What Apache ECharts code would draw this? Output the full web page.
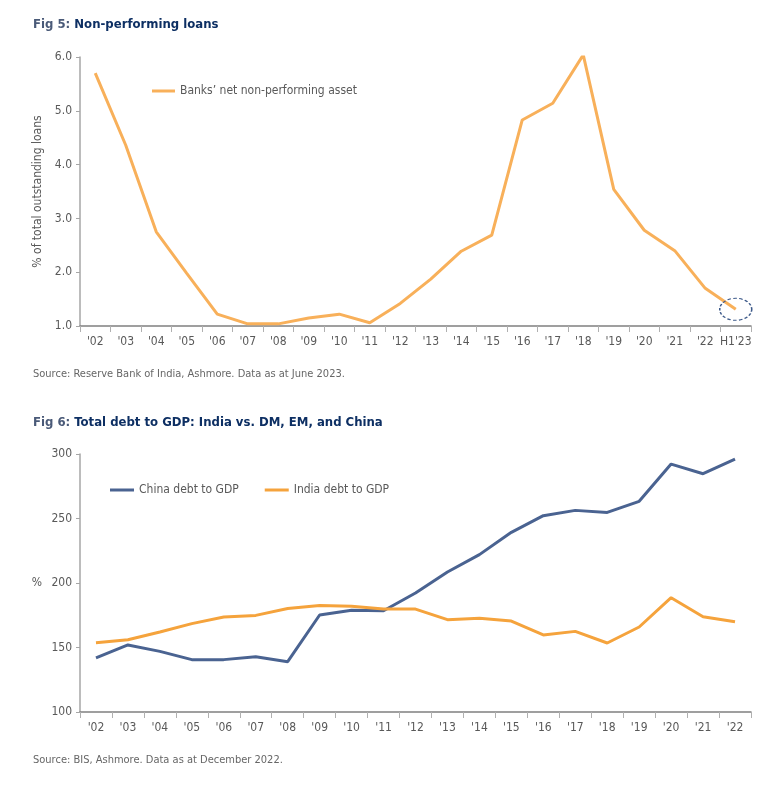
<!DOCTYPE html>
<html><head><meta charset="utf-8">
<script src="https://cdn.jsdelivr.net/npm/echarts@6/dist/echarts.min.js"></script>
<style>html,body{margin:0;padding:0;background:#fff}#c{width:782px;height:798px}</style>
</head><body><div id="c"></div>
<script>
const npaCategories = ["'02","'03","'04","'05","'06","'07","'08","'09","'10","'11","'12","'13","'14","'15","'16","'17","'18","'19","'20","'21","'22","H1'23"];
const npaValues = [5.70,4.36,2.75,1.98,1.22,1.04,1.04,1.15,1.22,1.06,1.42,1.87,2.39,2.69,4.83,5.14,6.04,3.54,2.78,2.40,1.70,1.31];
const npaTicks = [1,2,3,4,5,6];

const debtCategories = ["'02","'03","'04","'05","'06","'07","'08","'09","'10","'11","'12","'13","'14","'15","'16","'17","'18","'19","'20","'21","'22"];
const chinaDebt = [142,152,147,140.6,140.6,142.9,139,175.2,178.8,178.5,192.2,208.5,222,239.3,252.2,256.3,254.7,263.3,292.2,284.7,296.1];
const indiaDebt = [153.7,156,162,168.5,173.6,174.9,180.3,182.6,181.9,179.8,179.8,171.6,172.6,170.5,159.7,162.5,153.5,165.9,188.6,173.9,170];
const debtTicks = [100,150,200,250,300];

const FONT = "'Liberation Sans Narrow','DejaVu Sans Condensed','Roboto',sans-serif";
const GREY = '#595959';
const ORANGE1 = '#f8b05a';
const ORANGE2 = '#f5a33c';
const BLUE = '#4a6391';
const NAVY = '#0d2f63';

const chart = echarts.init(document.getElementById('c'), null, {renderer:'canvas'});

const lastIdx = npaCategories.length - 1;

const option = {
  animation:false,
  textStyle:{fontFamily:FONT},
  title:[
    {left:28, top:13, text:'{a|Fig 5: }{b|Non-performing loans}',
     textStyle:{rich:{a:{fontFamily:FONT,fontSize:13,color:'#4a5a78'},b:{fontFamily:FONT,fontSize:13,fontWeight:'bold',color:NAVY}}}},
    {left:28, top:411, text:'{a|Fig 6: }{b|Total debt to GDP: India vs. DM, EM, and China}',
     textStyle:{rich:{a:{fontFamily:FONT,fontSize:13,color:'#4a5a78'},b:{fontFamily:FONT,fontSize:13,fontWeight:'bold',color:NAVY}}}}
  ],
  graphic:[
    {type:'text', left:33, top:369, style:{text:'Source: Reserve Bank of India, Ashmore. Data as at June 2023.', font:'11px '+FONT, fill:'#666'}},
    {type:'text', left:33, top:755, style:{text:'Source: BIS, Ashmore. Data as at December 2022.', font:'11px '+FONT, fill:'#666'}}
  ],
  legend:[
    {left:147, top:80, itemWidth:23, itemHeight:3, itemGap:30, icon:'rect',
     textStyle:{fontFamily:FONT,fontSize:12,color:GREY},
     data:["Banks’ net non-performing asset"]},
    {left:105, top:479, itemWidth:24, itemHeight:3, itemGap:26, icon:'rect',
     textStyle:{fontFamily:FONT,fontSize:12,color:GREY},
     data:['China debt to GDP','India debt to GDP']}
  ],
  grid:[
    {left:80, right:31, top:57, height:269, containLabel:false},
    {left:80, right:31, top:454, height:258, containLabel:false}
  ],
  xAxis:[
    {type:'category', gridIndex:0, data:npaCategories, boundaryGap:true,
     axisLine:{lineStyle:{color:'#808080',width:1.5}},
     axisTick:{show:true,length:6,alignWithLabel:false,lineStyle:{color:'#b0b0b0'}},
     axisLabel:{interval:0,color:GREY,fontFamily:FONT,fontSize:12,margin:10}},
    {type:'category', gridIndex:1, data:debtCategories, boundaryGap:true,
     axisLine:{lineStyle:{color:'#808080',width:1.5}},
     axisTick:{show:true,length:6,alignWithLabel:false,lineStyle:{color:'#b0b0b0'}},
     axisLabel:{interval:0,color:GREY,fontFamily:FONT,fontSize:12,margin:10}}
  ],
  yAxis:[
    {type:'value', gridIndex:0, min:npaTicks[0], max:npaTicks[npaTicks.length-1], interval:1,
     name:'% of total outstanding loans', nameLocation:'middle', nameGap:34, nameRotate:90,
     nameTextStyle:{color:GREY,fontFamily:FONT,fontSize:12},
     axisLine:{show:true,lineStyle:{color:'#a6a6a6',width:1.5}},
     axisTick:{show:true,length:4,lineStyle:{color:'#a6a6a6'}},
     splitLine:{show:false},
     axisLabel:{color:GREY,fontFamily:FONT,fontSize:12,margin:8,formatter:v=>v.toFixed(1)}},
    {type:'value', gridIndex:1, min:debtTicks[0], max:debtTicks[debtTicks.length-1], interval:50,
     name:'%', nameLocation:'middle', nameGap:38, nameRotate:0,
     nameTextStyle:{color:GREY,fontFamily:FONT,fontSize:12},
     axisLine:{show:true,lineStyle:{color:'#a6a6a6',width:1.5}},
     axisTick:{show:true,length:4,lineStyle:{color:'#a6a6a6'}},
     splitLine:{show:false},
     axisLabel:{color:GREY,fontFamily:FONT,fontSize:12,margin:8}}
  ],
  series:[
    {name:"Banks’ net non-performing asset", type:'line', xAxisIndex:0, yAxisIndex:0,
     data:npaValues, showSymbol:false, symbol:'none',
     lineStyle:{color:ORANGE1,width:3}, itemStyle:{color:ORANGE1},
     markPoint:{symbol:'circle', symbolSize:[32,22], silent:true,
       itemStyle:{color:'rgba(0,0,0,0)',borderColor:'#3d5a8a',borderWidth:1.3,borderType:[3,2]},
       label:{show:false},
       data:[{coord:[npaCategories[lastIdx], npaValues[lastIdx]]}]}},
    {name:'China debt to GDP', type:'line', xAxisIndex:1, yAxisIndex:1,
     data:chinaDebt, showSymbol:false, symbol:'none',
     lineStyle:{color:BLUE,width:3}, itemStyle:{color:BLUE}},
    {name:'India debt to GDP', type:'line', xAxisIndex:1, yAxisIndex:1,
     data:indiaDebt, showSymbol:false, symbol:'none',
     lineStyle:{color:ORANGE2,width:3}, itemStyle:{color:ORANGE2}}
  ]
};
chart.setOption(option);
</script></body></html>
